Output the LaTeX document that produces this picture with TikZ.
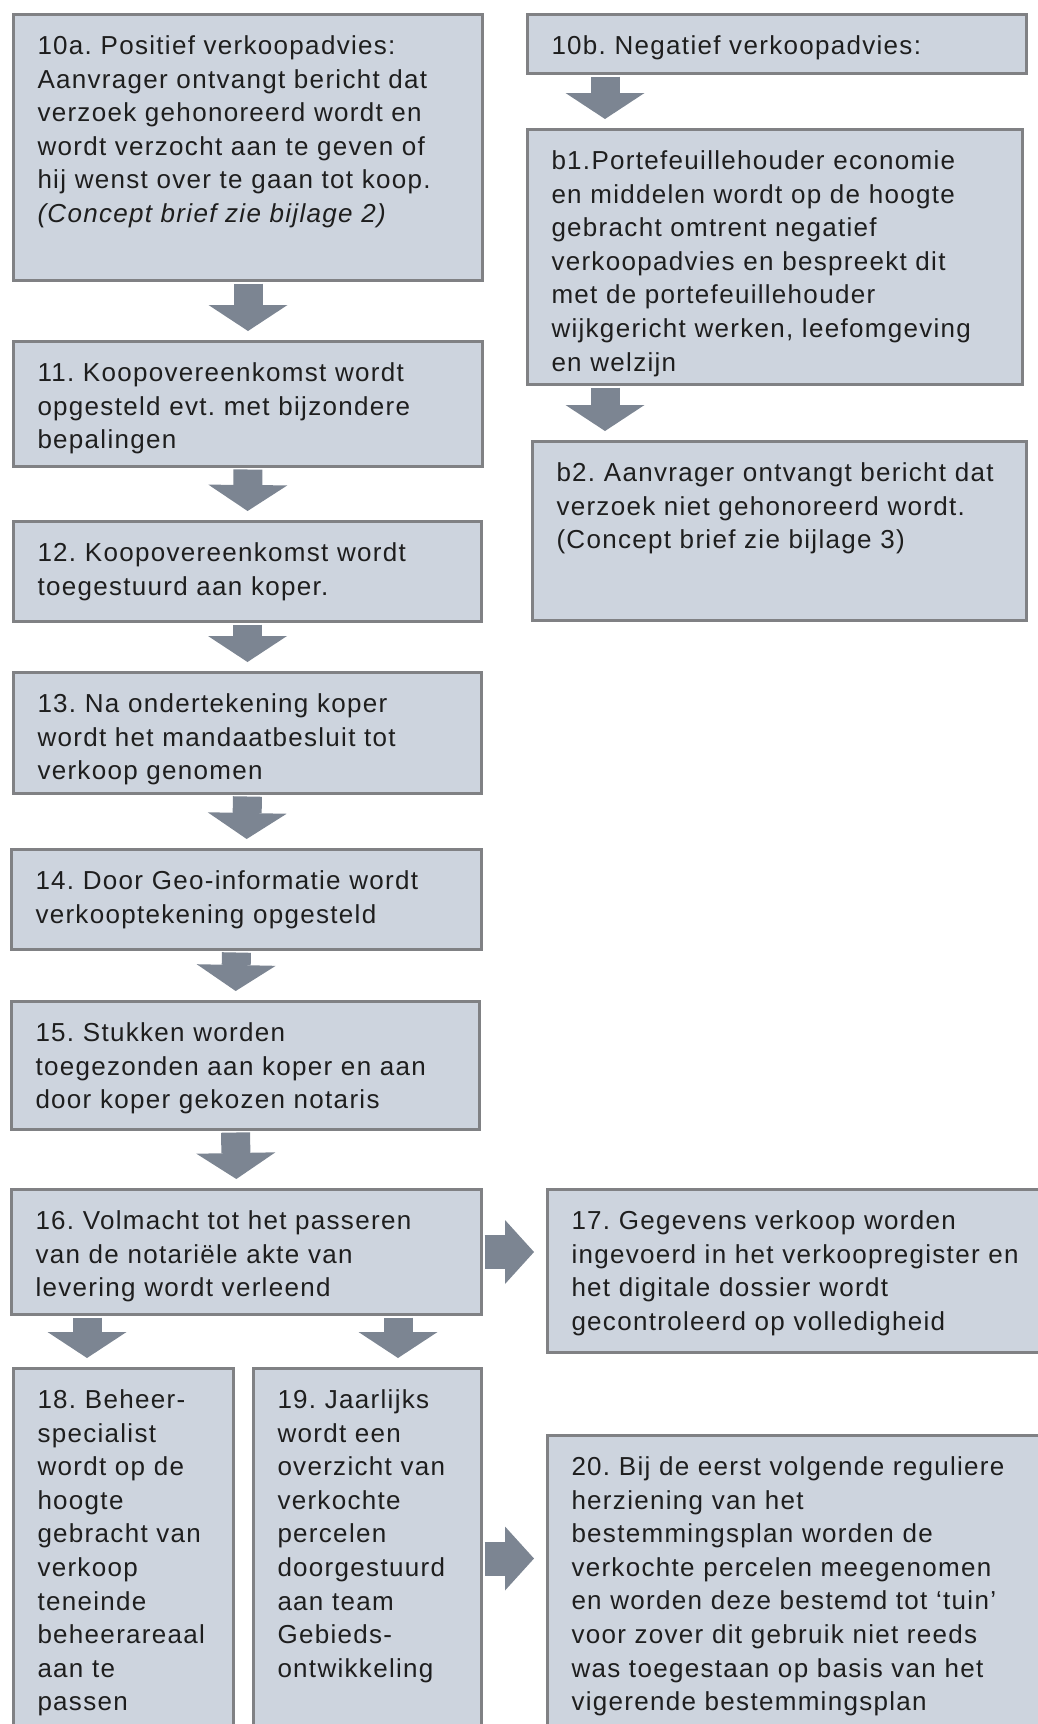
\documentclass[tikz,border=0pt]{standalone}
\usepackage{fontspec}
\newfontfamily\stapfont[LetterSpace=5]{Liberation Sans}
\usetikzlibrary{arrows.meta,calc}
\definecolor{vakvul}{RGB}{205,212,222}
\definecolor{vakrand}{RGB}{128,129,132}
\definecolor{pijlgrijs}{RGB}{124,133,146}
\definecolor{tekstkleur}{RGB}{30,30,30}
\frenchspacing
\tikzset{
  stap/.style={draw=vakrand, fill=vakvul, line width=1.5pt, anchor=north west,
    align=left, inner xsep=12pt, inner ysep=0pt, text height=20pt,
    text=tekstkleur, font={\stapfont\fontsize{13pt}{16.8pt}\selectfont}},
  pijl/.style={draw=pijlgrijs, line width=14.5pt,
    -{Triangle[width=39.5pt,length=13pt,line width=0pt]},
    shorten <=0.75pt, shorten >=4.5pt},
  zijpijl/.style={draw=pijlgrijs, line width=17pt,
    -{Triangle[width=32pt,length=14.5pt,line width=0pt]},
    shorten <=0.75pt, shorten >=6pt}
}
\begin{document}
\begin{tikzpicture}[x=0.5pt,y=-0.5pt]
\useasboundingbox (0,0) rectangle (1038,1724);
\clip (0,0) rectangle (1038,1724);

% linker kolom
\node[stap, text width=210.5pt, text depth=113pt] (s10a) at (12,13)
{10a. Positief verkoopadvies:\\ Aanvrager ontvangt bericht dat\\
verzoek gehonoreerd wordt en\\ wordt verzocht aan te geven of\\
hij wenst over te gaan tot koop.\\ \textit{(Concept brief zie bijlage 2)}};
\node[stap, text width=210.5pt, text depth=42.5pt] (s11) at (12,340)
{11. Koopovereenkomst wordt\\ opgesteld evt. met bijzondere\\ bepalingen};
\node[stap, text width=210pt, text depth=30pt] (s12) at (12,520)
{12. Koopovereenkomst wordt\\ toegestuurd aan koper.};
\node[stap, text width=210pt, text depth=40.5pt] (s13) at (12,671)
{13. Na ondertekening koper\\ wordt het mandaatbesluit tot\\ verkoop genomen};
\node[stap, text width=211pt, text depth=30pt] (s14) at (10,848)
{14. Door Geo-informatie wordt\\ verkooptekening opgesteld};
\node[stap, text width=210pt, text depth=44pt] (s15) at (10,1000)
{15. Stukken worden\\ toegezonden aan koper en aan\\ door koper gekozen notaris};
\node[stap, text width=211pt, text depth=42.5pt] (s16) at (10,1188)
{16. Volmacht tot het passeren\\ van de notariële akte van\\ levering wordt verleend};
\node[stap, text width=86pt, text depth=170pt] (s18) at (12,1367)
{18. Beheer-\\ specialist\\ wordt op de\\ hoogte\\ gebracht van\\ verkoop\\
teneinde\\ beheerareaal\\ aan te\\ passen};
\node[stap, text width=90pt, text depth=170pt] (s19) at (252,1367)
{19. Jaarlijks\\ wordt een\\ overzicht van\\ verkochte\\ percelen\\
doorgestuurd\\ aan team\\ Gebieds-\\ ontwikkeling};

% rechter kolom
\node[stap, text width=225.5pt, text depth=9.5pt] (s10b) at (526,13)
{10b. Negatief verkoopadvies:};
\node[stap, text width=223.5pt, text depth=107.5pt] (sb1) at (526,128)
{b1.Portefeuillehouder economie\\ en middelen wordt op de hoogte\\
gebracht omtrent negatief\\ verkoopadvies en bespreekt dit\\
met de portefeuillehouder\\ wijkgericht werken, leefomgeving\\ en welzijn};
\node[stap, text width=223pt, text depth=69.5pt] (sb2) at (531,440)
{b2. Aanvrager ontvangt bericht dat\\ verzoek niet gehonoreerd wordt.\\
(Concept brief zie bijlage 3)};
\node[stap, text width=233pt, text depth=61.5pt] (s17) at (546,1188)
{17. Gegevens verkoop worden\\ ingevoerd in het verkoopregister en\\
het digitale dossier wordt\\ gecontroleerd op volledigheid};
\node[stap, text width=233pt, text depth=140pt] (s20) at (546,1434)
{20. Bij de eerst volgende reguliere\\ herziening van het\\
bestemmingsplan worden de\\ verkochte percelen meegenomen\\
en worden deze bestemd tot ‘tuin’\\ voor zover dit gebruik niet reeds\\
was toegestaan op basis van het\\ vigerende bestemmingsplan};

% pijlen
\draw[pijl] (s10a.south) -- (s11.north);
\draw[pijl] (s11.south) -- (s12.north);
\draw[pijl] (s12.south) -- (s13.north);
\draw[pijl] (s13.south) -- (s14.north);
\draw[pijl] ([xshift=-5pt]s14.south) -- ([xshift=-5pt]s15.north);
\draw[pijl] ([xshift=-5pt]s15.south) -- ([xshift=-5pt]s16.north);
\coordinate (p10b) at ([xshift=39.5pt]s10b.south west);
\coordinate (pb1) at ([xshift=39.5pt]sb1.south west);
\draw[pijl] (p10b) -- (p10b |- sb1.north);
\draw[pijl] (pb1) -- (pb1 |- sb2.north);
\coordinate (p18) at ([xshift=38.5pt]s16.south west);
\coordinate (p19) at ([xshift=194pt]s16.south west);
\draw[pijl] (p18) -- (p18 |- s18.north);
\draw[pijl] (p19) -- (p19 |- s19.north);
\draw[zijpijl] (s16.east) -- (s16.east -| s17.west);
\draw[zijpijl] (s19.east) -- (s19.east -| s20.west);
\end{tikzpicture}
\end{document}
